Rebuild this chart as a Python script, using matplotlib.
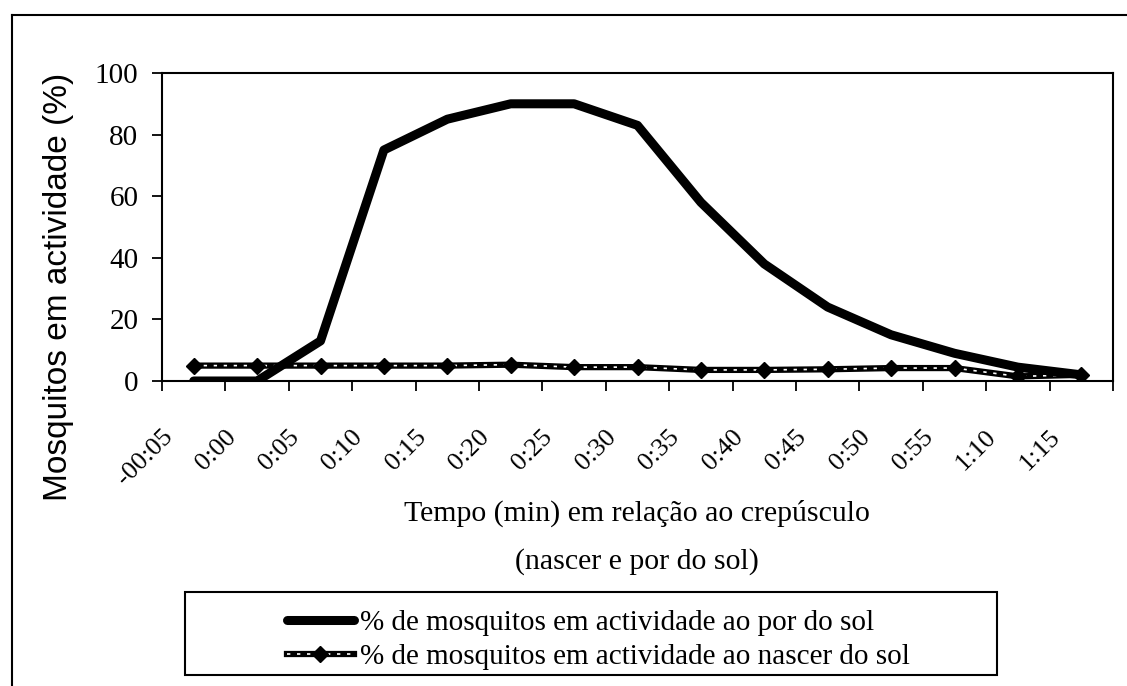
import numpy as np
import matplotlib.pyplot as plt
from matplotlib.lines import Line2D
from matplotlib.patches import Rectangle
from matplotlib.transforms import ScaledTranslation

time_labels = ['-00:05', '0:00', '0:05', '0:10', '0:15', '0:20', '0:25', '0:30',
               '0:35', '0:40', '0:45', '0:50', '0:55', '1:10', '1:15']
sunset = [0, 0, 13, 75, 85, 90, 90, 83, 58, 38, 24, 15, 9, 4.5, 2]
sunrise = [5, 5, 5, 5, 5, 5.3, 4.5, 4.5, 3.6, 3.6, 3.8, 4.2, 4.2, 1.5, 2]

label_sunset = '% de mosquitos em actividade ao por do sol'
label_sunrise = '% de mosquitos em actividade ao nascer do sol'

W, H = 1127, 686
SERIF = 'Liberation Serif'


def fx(px):
    return px / W


def fy(py):
    return 1 - py / H


def main():
    fig = plt.figure(figsize=(W / 100, H / 100), dpi=100)
    ax = fig.add_axes([fx(162), fy(381), fx(1113) - fx(162), fy(73) - fy(381)])

    x = np.arange(len(time_labels)) + 0.5
    l_set, = ax.plot(x, sunset, color='black', lw=6.5, solid_joinstyle='round',
                     solid_capstyle='round', zorder=4)
    l_rise, = ax.plot(x, sunrise, color='black', lw=4.5, zorder=2)
    l_rise_in, = ax.plot(x, sunrise, color='white', lw=1.2, ls=(0, (2, 4)), zorder=2.5)
    l_rise_mk, = ax.plot(x, sunrise, ls='none', marker='D', ms=8, color='black',
                         zorder=3)

    ax.set_xlim(0, len(time_labels))
    ax.set_ylim(0, 100)
    ax.set_yticks(np.arange(0, 101, 20))
    ax.set_xticks(np.arange(len(time_labels) + 1))
    ax.set_xticklabels([])
    ax.set_xticks(x, minor=True)
    ax.set_xticklabels(time_labels, minor=True, rotation=45, ha='right', va='top',
                       fontsize=19, family=SERIF)
    ax.tick_params(axis='x', which='minor', length=0, pad=32)
    ax.tick_params(axis='x', which='major', length=7, width=1.3, direction='out')
    ax.tick_params(axis='y', length=7, width=1.3, pad=10, labelsize=21)
    for lab in ax.get_yticklabels():
        lab.set_family(SERIF)
    for lab in ax.get_xticklabels(minor=True):
        lab.set_transform(lab.get_transform()
                          + ScaledTranslation(-0.17, 0, fig.dpi_scale_trans))
    for sp in ax.spines.values():
        sp.set_linewidth(1.5)

    fig.text(fx(59), fy(287), 'Mosquitos em actividade (%)', rotation=90,
             ha='center', va='center', family='Liberation Sans', fontsize=24)
    fig.text(fx(637), fy(513), 'Tempo (min) em relação ao crepúsculo',
             ha='center', va='center', family=SERIF, fontsize=21.5)
    fig.text(fx(637), fy(562), '(nascer e por do sol)',
             ha='center', va='center', family=SERIF, fontsize=21.5)

    fig.legend([l_set, (l_rise, l_rise_in, l_rise_mk)], [label_sunset, label_sunrise],
               loc='center left', bbox_to_anchor=(fx(272), fy(640)), frameon=False,
               handlelength=2.3, handletextpad=0.2, labelspacing=0.25, borderpad=0,
               prop={'family': SERIF, 'size': 21})
    fig.add_artist(Rectangle((fx(185), fy(675)), fx(997) - fx(185), fy(592) - fy(675),
                             transform=fig.transFigure, fill=False, lw=1.5,
                             edgecolor='black'))

    # outer chart frame (right and bottom edges fall outside the scan)
    fig.add_artist(Line2D([fx(12), 1], [fy(15), fy(15)], transform=fig.transFigure,
                          color='black', lw=1.5))
    fig.add_artist(Line2D([fx(12), fx(12)], [fy(15), 0], transform=fig.transFigure,
                          color='black', lw=1.5))

    fig.savefig('out.png', dpi=100)


if __name__ == '__main__':
    main()
